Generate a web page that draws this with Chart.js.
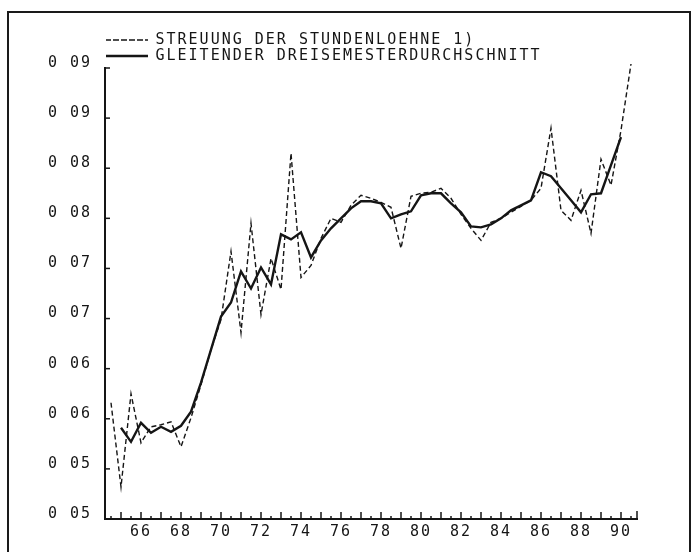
<!DOCTYPE html>
<html><head><meta charset="utf-8">
<script src="https://cdn.jsdelivr.net/npm/chart.js@4.4.1/dist/chart.umd.min.js"></script>
<style>
html,body{margin:0;padding:0;background:#fff;overflow:hidden;width:695px;height:552px;}
#wrap{position:relative;width:695px;height:552px;}
#frame{position:absolute;left:7px;top:11px;width:680px;height:600px;border:2px solid #1a1a1a;pointer-events:none;}
canvas{position:absolute;left:0;top:0;}
</style></head><body>
<div id="wrap"><canvas id="c" width="695" height="552"></canvas><div id="frame"></div></div>
<script>
// Semesters (year + half-year), 1964/2 .. 1990/2
const semesters = [64.5,65,65.5,66,66.5,67,67.5,68,68.5,69,69.5,70,70.5,71,71.5,72,72.5,73,73.5,74,
  74.5,75,75.5,76,76.5,77,77.5,78,78.5,79,79.5,80,80.5,81,81.5,82,82.5,83,83.5,84,
  84.5,85,85.5,86,86.5,87,87.5,88,88.5,89,89.5,90,90.5];

// Streuung der Stundenloehne (dashed)
const streuung = [0.0616,0.0532,0.0625,0.0576,0.0592,0.0594,0.0597,0.0572,0.0601,0.0634,
  0.0669,0.0699,0.0767,0.0686,0.0795,0.0704,0.0760,0.0729,0.0865,0.0741,
  0.0753,0.0780,0.0800,0.0796,0.0813,0.0823,0.0820,0.0816,0.0811,0.0770,
  0.0822,0.0825,0.0826,0.0830,0.0820,0.0804,0.0790,0.0778,0.0796,0.0800,
  0.0806,0.0812,0.0818,0.0830,0.0890,0.0808,0.0798,0.0828,0.0785,0.0859,
  0.0833,0.0888,0.0954];

// Gleitender Dreisemesterdurchschnitt (solid)
const durchschnitt = [null,
  0.0591,0.0577,0.0596,0.0586,0.0592,0.0587,0.0593,0.0607,0.0636,
  0.0669,0.0702,0.0716,0.0747,0.0730,0.0751,0.0734,0.0784,0.0779,0.0786,
  0.0761,0.0778,0.0790,0.0800,0.0810,0.0817,0.0817,0.0815,0.0800,0.0804,
  0.0807,0.0823,0.0825,0.0825,0.0815,0.0806,0.0792,0.0791,0.0794,0.0800,
  0.0808,0.0813,0.0818,0.0846,0.0842,0.0830,0.0818,0.0806,0.0824,0.0825,
  0.0853,0.0881,
  null];

const seriesLabels = ['STREUUNG DER STUNDENLOEHNE 1)', 'GLEITENDER DREISEMESTERDURCHSCHNITT'];
const xTickLabels = ['66','68','70','72','74','76','78','80','82','84','86','88','90'];
const yTickLabels = ['0 05','0 05','0 06','0 06','0 07','0 07','0 08','0 08','0 09','0 09'];

const INK = '#151515';
const FONT = 'DejaVu Sans Mono';

const tickMarks = {
  id: 'tickMarks',
  beforeLayout(chart){ chart.ctx.letterSpacing = '2px'; },
  beforeDraw(chart){ chart.ctx.letterSpacing = '2px'; },
  afterDraw(chart){
    const {ctx, scales:{x, y}} = chart;
    ctx.save();
    ctx.strokeStyle = INK; ctx.lineWidth = 1.5;
    x.ticks.forEach(t => {
      const px = x.getPixelForValue(t.value);
      const len = Number.isInteger(t.value) ? 7 : 3;
      ctx.beginPath(); ctx.moveTo(px, x.top); ctx.lineTo(px, x.top - len); ctx.stroke();
    });
    ctx.beginPath(); ctx.moveTo(x.right, x.top); ctx.lineTo(x.right, x.top - 8); ctx.stroke();
    y.ticks.forEach(t => {
      const py = y.getPixelForValue(t.value);
      ctx.beginPath(); ctx.moveTo(y.right, py); ctx.lineTo(y.right + 5, py); ctx.stroke();
    });
    ctx.restore();
  }
};

new Chart(document.getElementById('c'), {
  type: 'line',
  data: {
    datasets: [
      { label: seriesLabels[0], data: semesters.map((x,i)=>({x, y: streuung[i]})),
        borderColor: INK, backgroundColor: INK, borderWidth: 1.4, borderDash: [5,3],
        pointRadius: 0, tension: 0, clip: false },
      { label: seriesLabels[1], data: semesters.map((x,i)=>({x, y: durchschnitt[i]})),
        borderColor: INK, backgroundColor: INK, borderWidth: 2.4,
        pointRadius: 0, tension: 0 }
    ]
  },
  options: {
    responsive: false, animation: false, devicePixelRatio: 1,
    layout: { padding: { top: 31.5, right: 58, bottom: 0, left: 0 } },
    plugins: {
      tooltip: { enabled: false },
      legend: {
        position: 'top', align: 'start', fullSize: false, maxHeight: 36.5,
        labels: { boxWidth: 42, boxHeight: 0, padding: 1, color: INK,
          font: { family: FONT, size: 15 } }
      }
    },
    scales: {
      x: {
        type: 'linear', min: 64.2, max: 90.8,
        afterFit(s){ s.height = 33; },
        border: { display: true, color: INK, width: 2 },
        grid: { drawOnChartArea: false, drawTicks: false },
        ticks: { stepSize: 0.5, includeBounds: false, autoSkip: false, maxRotation: 0,
          padding: 4, color: INK, font: { family: FONT, size: 15 },
          callback: (v) => { const s = String(v); return xTickLabels.includes(s) ? s : ''; } }
      },
      y: {
        min: 0.05, max: 0.095,
        afterFit(s){ s.width = 105; },
        border: { display: true, color: INK, width: 2 },
        grid: { drawOnChartArea: false, drawTicks: false },
        ticks: { stepSize: 0.005, padding: 13, labelOffset: -5, color: INK,
          font: { family: FONT, size: 15 },
          callback: (v, i) => yTickLabels[i] }
      }
    }
  },
  plugins: [tickMarks]
});
</script>
</body></html>
